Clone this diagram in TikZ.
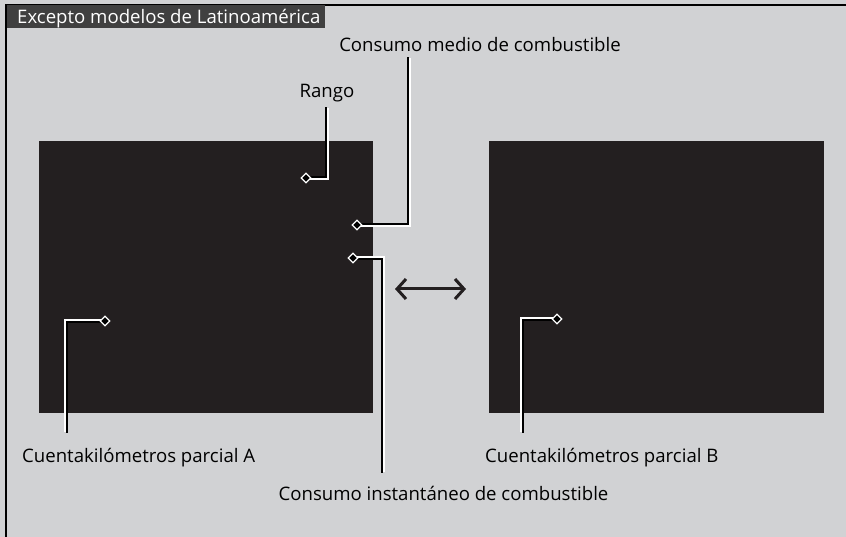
\documentclass[tikz,border=0pt]{standalone}
\usepackage{fontspec}
\setmainfont{Open Sans}
\usetikzlibrary{arrows.meta,shapes.geometric,calc}
\definecolor{bg}{HTML}{D1D2D4}
\definecolor{scr}{HTML}{231F20}
\definecolor{ttl}{HTML}{404040}
\tikzset{
  lbl/.style={font=\fontsize{18.6}{21}\selectfont, text=black, inner sep=0pt},
  leadw/.style={white, line width=3.4pt},
  leadb/.style={black, line width=1.7pt},
  dmd/.style={diamond, draw=white, fill=black, line width=1.2pt, minimum size=10pt, inner sep=0pt},
}
\newcommand\leadline[4]{%
  \draw[leadw] (#1) |- (#2);
  \draw[leadb] ($(#1)+(#3,#4)$) |- ($(#2)+(#3,#4)$);}
\begin{document}
\begin{tikzpicture}[x=1pt,y=-1pt]
\useasboundingbox (0,0) rectangle (846,537);
\fill[bg] (0,0) rectangle (846,537);
\draw[black, line width=2pt] (6,537) -- (6,5) -- (846,5);
\fill[ttl] (7,5) rectangle (325,28);
\node[lbl, text=white, anchor=base west] (title) at (17,24) {Excepto modelos de Latinoamérica};
% screens
\node[fill=scr, anchor=north west, minimum width=334pt, minimum height=272pt, inner sep=0pt] (scrA) at (39,141) {};
\node[fill=scr, anchor=north west, minimum width=335pt, minimum height=272pt, inner sep=0pt] (scrB) at (489,141) {};
% labels
\node[lbl, anchor=base] (medio) at (480,52) {Consumo medio de combustible};
\node[lbl, anchor=base] (rango) at (327,98) {Rango};
\node[lbl, anchor=base west] (cA) at (22,462) {Cuentakilómetros parcial A};
\node[lbl, anchor=base west] (cB) at (485,462) {Cuentakilómetros parcial B};
\node[lbl, anchor=base] (inst) at (443.5,500) {Consumo instantáneo de combustible};
% markers
\coordinate (dR) at (306,178);
\coordinate (dM) at (357,225);
\coordinate (dI) at (353,258);
\coordinate (dA) at (105,321);
\coordinate (dB) at (557,319);
\coordinate (eR) at (327,108);
\coordinate (eM) at (409,58);
\coordinate (eI) at (383,472);
\coordinate (eA) at (66,432);
\coordinate (eB) at (522,432);
\leadline{eR}{dR}{-0.85}{-0.85}
\leadline{eM}{dM}{-0.85}{-0.85}
\leadline{eI}{dI}{-0.85}{0.85}
\leadline{eA}{dA}{0.85}{0.85}
\leadline{eB}{dB}{0.85}{0.85}
\foreach \d in {dR,dM,dI,dA,dB}{ \node[dmd] (m\d) at (\d) {}; }
% double arrow
\coordinate (aL) at (395,289);
\coordinate (aR) at (466,289);
\draw[scr, line width=3pt, {Straight Barb[length=9pt,width=20pt,line width=3pt]}-{Straight Barb[length=9pt,width=20pt,line width=3pt]}] (aL) -- (aR);
\end{tikzpicture}
\end{document}
